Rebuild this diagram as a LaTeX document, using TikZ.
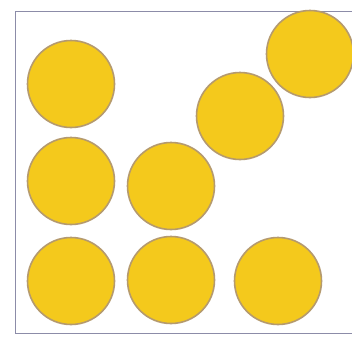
\documentclass[tikz,border=0pt]{standalone}
\definecolor{dotfill}{HTML}{F4C91C}
\definecolor{dotedge}{HTML}{B59A6E}
\definecolor{frame}{HTML}{8C8CA8}
\begin{document}
\begin{tikzpicture}[x=1pt,y=-1pt,
  dot/.style={circle,fill=dotfill,draw=dotedge,line width=1.6pt,minimum size=87pt,inner sep=0pt}]
\useasboundingbox (0,0) rectangle (352,343);
\fill[white] (0,0) rectangle (352,343);
\draw[frame,line width=0.8pt] (352,11) -- (15,11) -- (15,333) -- (352,333);
\node[dot] (a) at (71,84) {};
\node[dot] (b) at (71,181) {};
\node[dot] (c) at (171,186) {};
\node[dot] (d) at (71,281) {};
\node[dot] (e) at (171,280) {};
\node[dot] (f) at (278,281) {};
\node[dot] (g) at (240,116) {};
\node[dot] (h) at (310,54) {};
\end{tikzpicture}
\end{document}
